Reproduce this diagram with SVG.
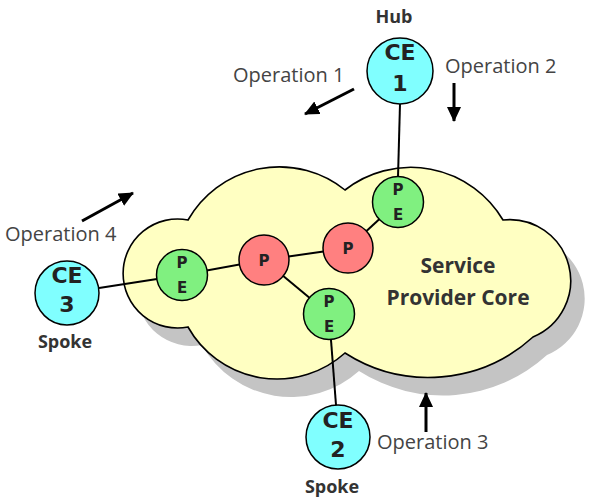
<svg xmlns="http://www.w3.org/2000/svg" width="592" height="500" viewBox="0 0 592 500">
<defs>
<style>
.cloud{fill:#ffffc2;stroke:#000;stroke-width:1.6}
.shadow{fill:#c4c4c4}
.link{stroke:#000;stroke-width:2;fill:none}
.arrow{stroke:#000;stroke-width:3;fill:none}
.ce{fill:#80ffff;stroke:#000;stroke-width:1.5}
.pe{fill:#80f080;stroke:#000;stroke-width:1.5}
.p{fill:#ff8080;stroke:#000;stroke-width:1.5}
.big{font-family:"DejaVu Sans",sans-serif;font-weight:bold;font-size:22px;fill:#222;text-anchor:middle}
.small{font-family:"DejaVu Sans",sans-serif;font-weight:bold;font-size:15px;fill:#222;text-anchor:middle}
.role{font-family:"Open Sans",sans-serif;font-weight:bold;font-size:18px;fill:#333;text-anchor:middle}
.op{font-family:"Open Sans",sans-serif;font-size:20px;fill:#444}
.core{font-family:"Open Sans",sans-serif;font-weight:bold;font-size:21px;fill:#333;text-anchor:middle}
</style>
<marker id="ah" markerUnits="userSpaceOnUse" markerWidth="18" markerHeight="16" refX="14" refY="7" orient="auto">
<path d="M0,0 L15,7 L0,14 Z" fill="#000"/>
</marker>
<path id="cloudpath" d="M188,220 A105,105 0 0 1 345,190 A107,107 0 0 1 503,220 A61,61 0 0 1 533,337 A155,155 0 0 1 345,353 A102,102 0 0 1 188,327 A54.5,54.5 0 1 1 188,220 Z"/>
</defs>
<g id="cloud">
<use href="#cloudpath" class="shadow" transform="translate(14,18)"/>
<use href="#cloudpath" class="cloud"/>
<text class="core" x="458" y="273">Service</text>
<text class="core" x="458" y="305">Provider Core</text>
</g>
<g id="connectors">
<line class="link" x1="400" y1="104" x2="398" y2="177"/>
<line class="link" x1="99" y1="288" x2="157" y2="279"/>
<line class="link" x1="182" y1="275" x2="264" y2="260"/>
<line class="link" x1="264" y1="260" x2="348" y2="248"/>
<line class="link" x1="348" y1="248" x2="398" y2="202"/>
<line class="link" x1="264" y1="260" x2="329" y2="314"/>
<line class="link" x1="329" y1="314" x2="336" y2="405"/>
</g>
<g id="arrows">
<line class="arrow" x1="354" y1="89" x2="305" y2="114" marker-end="url(#ah)"/>
<line class="arrow" x1="454" y1="83" x2="454" y2="121" marker-end="url(#ah)"/>
<line class="arrow" x1="426" y1="432" x2="426" y2="393" marker-end="url(#ah)"/>
<line class="arrow" x1="82" y1="221" x2="133" y2="193" marker-end="url(#ah)"/>
</g>
<g id="labels">
<text class="op" x="233" y="82">Operation 1</text>
<text class="op" x="445" y="73">Operation 2</text>
<text class="op" x="377" y="449">Operation 3</text>
<text class="op" x="5" y="241">Operation 4</text>
</g>
<g id="ce1">
<circle class="ce" cx="400" cy="71" r="33"/>
<text class="big" x="400" y="60">CE</text>
<text class="big" x="400" y="91">1</text>
<text class="role" x="394" y="23">Hub</text>
</g>
<g id="ce3">
<circle class="ce" cx="67" cy="293" r="32"/>
<text class="big" x="67" y="283">CE</text>
<text class="big" x="67" y="312">3</text>
<text class="role" x="65" y="348">Spoke</text>
</g>
<g id="ce2">
<circle class="ce" cx="338" cy="437" r="32"/>
<text class="big" x="338" y="428">CE</text>
<text class="big" x="338" y="457">2</text>
<text class="role" x="332" y="493">Spoke</text>
</g>
<g id="pe-left">
<circle class="pe" cx="182" cy="275" r="25.5"/>
<text class="small" x="182" y="268">P</text>
<text class="small" x="182" y="293">E</text>
</g>
<g id="pe-top">
<circle class="pe" cx="398" cy="202" r="25.5"/>
<text class="small" x="398" y="195">P</text>
<text class="small" x="398" y="220">E</text>
</g>
<g id="pe-bottom">
<circle class="pe" cx="329" cy="314" r="25.5"/>
<text class="small" x="329" y="307">P</text>
<text class="small" x="329" y="332">E</text>
</g>
<g id="p1">
<circle class="p" cx="264" cy="260" r="25"/>
<text class="small" x="264" y="266">P</text>
</g>
<g id="p2">
<circle class="p" cx="348" cy="248" r="25"/>
<text class="small" x="348" y="254">P</text>
</g>
</svg>
